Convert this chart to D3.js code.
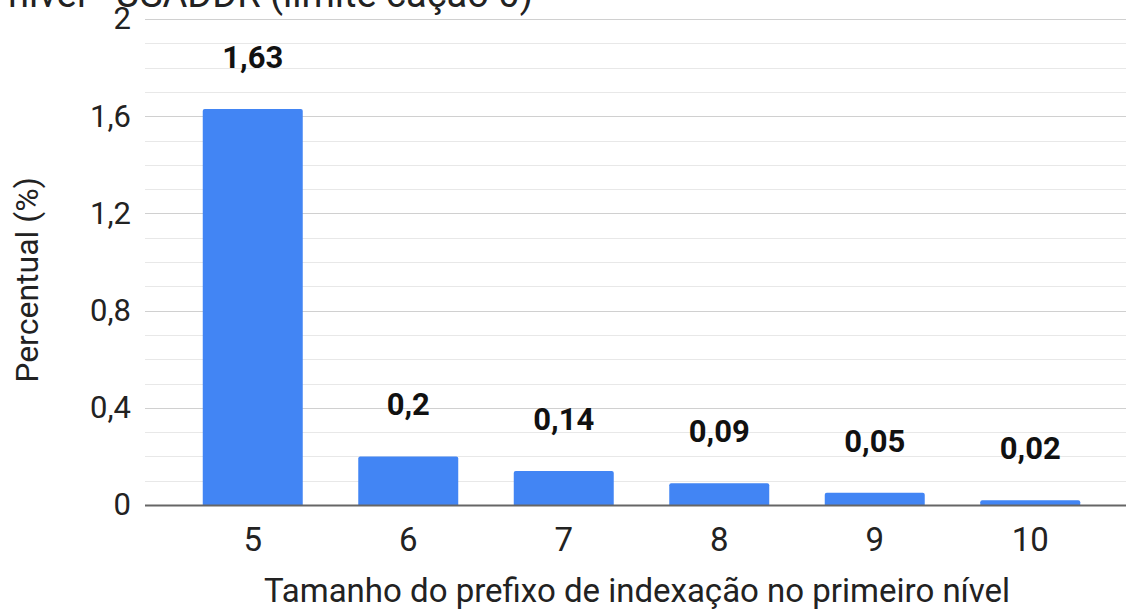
<!DOCTYPE html>
<html>
<head>
<meta charset="utf-8">
<script src="https://cdn.jsdelivr.net/npm/d3@7"></script>
<style>
  html, body { margin: 0; padding: 0; background: #fff; }
  svg { display: block; font-family: Roboto, "Noto Sans", sans-serif; }
</style>
</head>
<body>
<svg id="chart" width="1126" height="610"></svg>
<script>
// Prefix sizes and the share (%) for each
const categories = ["5", "6", "7", "8", "9", "10"];
const values = [1.63, 0.2, 0.14, 0.09, 0.05, 0.02];
const majorTicks = [0, 0.4, 0.8, 1.2, 1.6, 2];
const titleText = "nível - USADDR (limite cação 0)";
const xTitle = "Tamanho do prefixo de indexação no primeiro nível";
const yTitle = "Percentual (%)";

const svg = d3.select("#chart");
const fmt = v => String(v).replace(".", ",");

const plotLeft = 145, plotRight = 1126, plotTop = 19, plotBottom = 505;

const y = d3.scaleLinear().domain([0, 2]).range([plotBottom, plotTop]);
const x = d3.scaleBand().domain(categories).range([175, 1108])
  .paddingInner(0.357).paddingOuter(0.1785);

// Minor gridlines every 0.1
const minor = d3.range(1, 20).map(i => i / 10).filter(v => !majorTicks.some(t => Math.abs(t - v) < 1e-9));
svg.append("g").selectAll("line").data(minor).join("line")
  .attr("x1", plotLeft).attr("x2", plotRight)
  .attr("y1", d => Math.round(y(d)) + 0.5).attr("y2", d => Math.round(y(d)) + 0.5)
  .attr("stroke", "#e8e8e8").attr("stroke-width", 1);

// Major gridlines
svg.append("g").selectAll("line").data(majorTicks.filter(t => t > 0)).join("line")
  .attr("x1", plotLeft).attr("x2", plotRight)
  .attr("y1", d => Math.round(y(d)) + 0.5).attr("y2", d => Math.round(y(d)) + 0.5)
  .attr("stroke", "#d0d0d0").attr("stroke-width", 1);

// Y axis tick labels
const yAxis = d3.axisLeft(y).tickValues(majorTicks).tickFormat(fmt).tickSize(0).tickPadding(0);
const gy = svg.append("g").attr("transform", "translate(131,0)").call(yAxis);
gy.select(".domain").remove();
gy.selectAll("text").attr("font-size", 31).attr("fill", "#222").attr("font-family", "Roboto");

// Bars with slightly rounded top corners
const r = 2;
svg.append("g").selectAll("path").data(values).join("path")
  .attr("fill", "#4285f4")
  .attr("d", (d, i) => {
    const x0 = x(categories[i]), w = x.bandwidth(), y0 = y(d), y1 = y(0);
    const rr = Math.min(r, (y1 - y0));
    return `M${x0},${y1}V${y0 + rr}Q${x0},${y0} ${x0 + rr},${y0}H${x0 + w - rr}Q${x0 + w},${y0} ${x0 + w},${y0 + rr}V${y1}Z`;
  });

// Baseline
svg.append("line")
  .attr("x1", plotLeft).attr("x2", plotRight)
  .attr("y1", y(0) + 0.5).attr("y2", y(0) + 0.5)
  .attr("stroke", "#666").attr("stroke-width", 2);

// Value labels
svg.append("g").selectAll("text").data(values).join("text")
  .attr("x", (d, i) => x(categories[i]) + x.bandwidth() / 2)
  .attr("y", d => y(d) - 41)
  .attr("text-anchor", "middle")
  .attr("font-size", 31).attr("font-weight", "bold").attr("fill", "#111")
  .text(fmt);

// X axis tick labels
const xAxis = d3.axisBottom(x).tickSize(0).tickPadding(0);
const gx = svg.append("g").attr("transform", `translate(0,${plotBottom + 23})`).call(xAxis);
gx.select(".domain").remove();
gx.selectAll("text").attr("font-size", 33).attr("fill", "#222").attr("font-family", "Roboto");

// Axis titles
svg.append("text")
  .attr("x", 637).attr("y", 602)
  .attr("text-anchor", "middle")
  .attr("font-size", 33).attr("fill", "#222")
  .text(xTitle);

svg.append("text")
  .attr("transform", "translate(38,280) rotate(-90)")
  .attr("text-anchor", "middle")
  .attr("font-size", 32).attr("fill", "#222")
  .text(yTitle);

// Chart title (upper part clipped by the frame)
svg.append("text")
  .attr("x", 8).attr("y", 7)
  .attr("font-size", 38).attr("fill", "#222")
  .text(titleText);
</script>
</body>
</html>
